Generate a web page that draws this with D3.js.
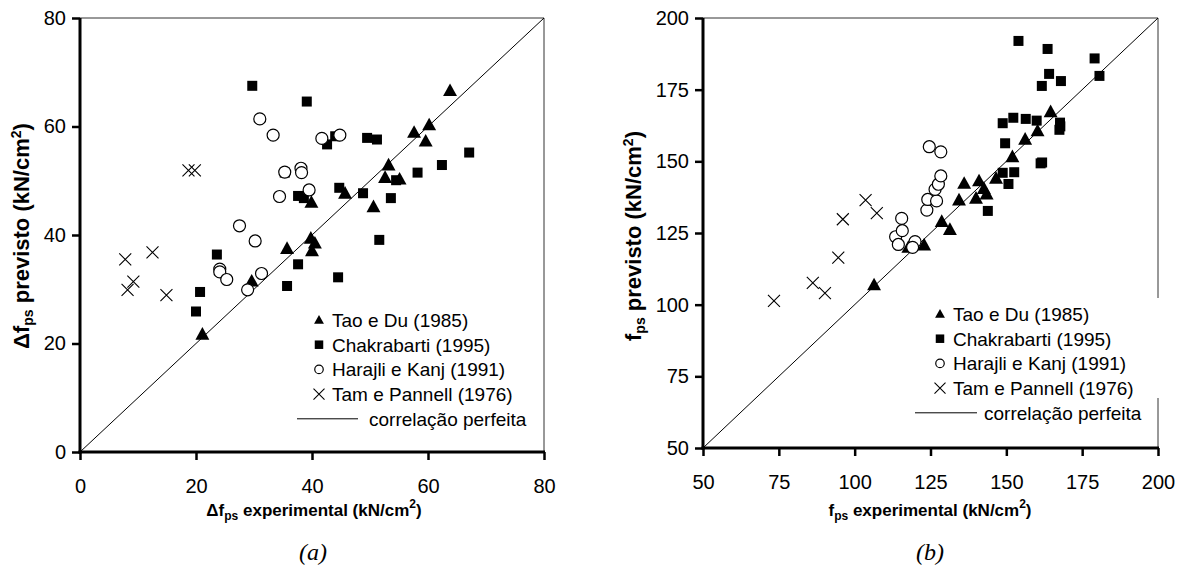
<!DOCTYPE html>
<html lang="en">
<head>
    <meta charset="utf-8">
    <script type="text/javascript" src="https://d3js.org/d3.v7.min.js"></script>
    <style>
        body { margin: 0; background: #fff; }
        text { fill: #000; }
    </style>
</head>

<body>
    <script type="text/javascript">
        // SVG width and height
        let w = 1179;
        let h = 567;

        // Tick labels
        let ticksA = [0, 20, 40, 60, 80];
        let ticksB = [50, 75, 100, 125, 150, 175, 200];

        // Legend names
        let seriesNames = ["Tao e Du (1985)", "Chakrabarti (1995)", "Harajli e Kanj (1991)", "Tam e Pannell (1976)"];
        let lineName = "correlação perfeita";

        // Panel (a): [experimental, previsto]
        let taoA = [[21.1, 21.7], [29.6, 31.5], [35.7, 37.5], [39.8, 39.4], [40.5, 38.5], [40.0, 37.1],
                    [39.9, 46.0], [45.7, 47.7], [50.6, 45.2], [53.2, 52.9], [52.6, 50.6], [55.1, 50.3],
                    [57.6, 58.9], [59.6, 57.3], [60.2, 60.3], [63.8, 66.6]];
        let chakA = [[29.7, 67.5], [39.1, 64.6], [42.6, 56.7], [44.0, 58.2], [49.5, 57.9], [51.2, 57.6],
                     [35.3, 51.5], [37.6, 47.2], [38.6, 46.8], [44.7, 48.7], [48.8, 47.7], [53.6, 46.8],
                     [58.2, 51.5], [62.4, 52.9], [67.1, 55.2], [54.5, 50.1], [23.6, 36.4], [20.7, 29.5],
                     [20.0, 25.9], [35.7, 30.6], [37.6, 34.6], [44.5, 32.2], [51.6, 39.1]];
        let harA = [[31.0, 61.4], [33.3, 58.4], [41.7, 57.8], [44.8, 58.4], [35.3, 51.6], [38.1, 52.3],
                    [38.2, 51.5], [34.4, 47.1], [39.5, 48.3], [27.5, 41.7], [30.2, 38.9], [24.1, 33.7],
                    [24.1, 33.2], [25.3, 31.8], [28.9, 29.9], [31.3, 32.9]];
        let tamA = [[7.8, 35.5], [12.5, 36.8], [8.2, 29.9], [9.2, 31.4], [14.9, 28.9], [18.7, 51.9], [19.8, 51.9]];

        // Panel (b): [experimental, previsto]
        let taoB = [[106.4, 106.9], [117.7, 120.0], [122.9, 120.8], [128.7, 129.0], [131.4, 126.2], [134.4, 136.5],
                    [136.1, 142.3], [140.0, 137.1], [141.0, 143.2], [142.6, 140.5], [143.5, 138.6], [146.6, 144.1],
                    [152.0, 151.6], [156.2, 157.7], [160.3, 160.6], [164.6, 167.3]];
        let chakB = [[143.9, 132.7], [148.8, 146.0], [150.7, 142.1], [152.6, 146.2], [149.6, 156.3], [148.8, 163.3],
                     [152.3, 165.2], [156.4, 164.8], [160.0, 164.2], [161.3, 149.3], [161.8, 149.6], [167.7, 163.5],
                     [167.8, 162.2], [167.5, 161.0], [161.7, 176.3], [164.1, 180.5], [168.0, 178.0], [163.6, 189.2],
                     [154.0, 192.0], [179.1, 185.9], [180.7, 179.8]];
        let harB = [[113.5, 123.7], [114.4, 121.0], [115.7, 125.8], [115.5, 130.1], [119.9, 122.0], [119.1, 120.0],
                    [123.8, 133.0], [124.1, 136.7], [127.0, 136.2], [126.5, 140.2], [127.6, 142.0], [128.4, 144.9],
                    [124.6, 155.1], [128.4, 153.3]];
        let tamB = [[73.4, 101.3], [86.2, 107.6], [90.2, 104.0], [94.6, 116.4], [96.1, 129.8], [103.6, 136.5], [107.3, 131.9]];

        let sans = "'Liberation Sans', Arial, sans-serif";
        let serif = "'Liberation Serif', 'Times New Roman', serif";

        // Create SVG element
        let svg = d3.select("body").append("svg")
                    .attr("width", w)
                    .attr("height", h)
                    .style("font-family", sans);

        // Marker paths
        let triPath = s => `M0,${-s * 0.6}L${s * 0.58},${s * 0.45}L${-s * 0.58},${s * 0.45}Z`;
        let crossPath = s => `M${-s},${-s}L${s},${s}M${-s},${s}L${s},${-s}`;

        let drawMarker = function(g, kind, x, y, s) {
            if (kind === 0) {
                g.append("path").attr("d", triPath(s)).attr("transform", `translate(${x},${y})`).attr("fill", "#000");
            } else if (kind === 1) {
                g.append("rect").attr("x", x - s / 2).attr("y", y - s / 2).attr("width", s).attr("height", s).attr("fill", "#000");
            } else if (kind === 2) {
                g.append("circle").attr("cx", x).attr("cy", y).attr("r", s / 2)
                    .attr("fill", "#fff").attr("stroke", "#000").attr("stroke-width", 1.2);
            } else {
                g.append("path").attr("d", crossPath(s / 2)).attr("transform", `translate(${x},${y})`)
                    .attr("fill", "none").attr("stroke", "#000").attr("stroke-width", 1.1);
            }
        };

        // Title with sub/superscripts
        let addTitle = function(t, prefix, rest, small) {
            t.append("tspan").text(prefix + "f");
            t.append("tspan").text("ps").attr("font-size", small).attr("dy", 4);
            t.append("tspan").text(rest + " (kN/cm").attr("dy", -4);
            t.append("tspan").text("2").attr("font-size", small).attr("dy", -8);
            t.append("tspan").text(")").attr("dy", 8);
        };

        let drawPanel = function(p) {
            let g = svg.append("g");
            let x = d3.scaleLinear().domain(p.domain).range([p.left, p.right]);
            let y = d3.scaleLinear().domain(p.domain).range([p.bottom, p.top]);

            // Thin frame (top and right)
            g.append("path")
                .attr("d", `M${p.left},${p.top}H${p.right}V${p.bottom}`)
                .attr("fill", "none").attr("stroke", "#333").attr("stroke-width", 1);

            // Perfect correlation line
            g.append("line")
                .attr("x1", x(p.domain[0])).attr("y1", y(p.domain[0]))
                .attr("x2", x(p.domain[1])).attr("y2", y(p.domain[1]))
                .attr("stroke", "#000").attr("stroke-width", 1);

            // Axes
            let xAxis = d3.axisBottom(x).tickValues(p.ticks).tickSize(8).tickPadding(19);
            let yAxis = d3.axisLeft(y).tickValues(p.ticks).tickSize(8).tickPadding(6);
            let gx = g.append("g").attr("transform", `translate(0,${p.bottom})`).call(xAxis);
            let gy = g.append("g").attr("transform", `translate(${p.left},0)`).call(yAxis);
            [gx, gy].forEach(a => {
                a.select(".domain").attr("stroke-width", 3).attr("stroke", "#000");
                a.selectAll(".tick line").attr("stroke-width", 2.5).attr("stroke", "#000");
                a.selectAll(".tick text").attr("font-size", 20).style("font-family", sans).attr("fill", "#000");
            });
            gy.select(".domain").attr("d", `M0,${p.bottom + 1.5}V${p.top}`);
            gx.select(".domain").attr("d", `M${p.left - 1.5},0H${p.right + 1}`);

            // Points
            let pts = g.append("g");
            p.series.forEach((data, k) => {
                data.forEach(d => drawMarker(pts, k, x(d[0]), y(d[1]), k === 1 ? 10 : 12));
            });

            // Legend
            let lg = g.append("g");
            if (p.legendBg) {
                lg.append("rect").attr("x", p.legendBg[0]).attr("y", p.legendBg[1])
                    .attr("width", p.legendBg[2]).attr("height", p.legendBg[3]).attr("fill", "#fff");
            }
            seriesNames.forEach((name, k) => {
                let ly = p.legY + k * p.legStep;
                drawMarker(lg, k, p.legMarkX, ly, k === 3 ? 11 : 8.5);
                lg.append("text").attr("x", p.legTextX).attr("y", ly).attr("dy", "0.36em")
                    .attr("font-size", 19).text(name);
            });
            let ly = p.legY + 4 * p.legStep;
            lg.append("line").attr("x1", p.legLine[0]).attr("x2", p.legLine[1]).attr("y1", ly).attr("y2", ly)
                .attr("stroke", "#000").attr("stroke-width", 1);
            lg.append("text").attr("x", p.legLine[2]).attr("y", ly).attr("dy", "0.36em")
                .attr("font-size", 19).text(lineName);

            // Axis titles
            let tx = g.append("text").attr("x", p.xTitle[0]).attr("y", p.xTitle[1])
                .attr("text-anchor", "middle").attr("font-weight", "bold").attr("font-size", 17);
            addTitle(tx, p.prefix, " experimental", 12);
            let ty = g.append("text").attr("transform", `translate(${p.yTitle[0]},${p.yTitle[1]}) rotate(-90)`)
                .attr("text-anchor", "middle").attr("font-weight", "bold").attr("font-size", 22);
            addTitle(ty, p.prefix, " previsto", 14);

            // Caption
            g.append("text").attr("x", p.caption[0]).attr("y", p.caption[1]).attr("text-anchor", "middle")
                .style("font-family", serif).attr("font-style", "italic")
                .attr("font-size", 24).text(p.caption[2]);
        };

        // Panel (a)
        drawPanel({
            domain: [0, 80], ticks: ticksA,
            left: 80, right: 544, top: 18, bottom: 452,
            series: [taoA, chakA, harA, tamA],
            legY: 320, legStep: 24.7, legMarkX: 319, legTextX: 332, legLine: [297, 358, 369],
            xTitle: [314, 516], yTitle: [29, 236], prefix: "Δ",
            caption: [313, 560, "(a)"]
        });

        // Panel (b)
        drawPanel({
            domain: [50, 200], ticks: ticksB,
            left: 703, right: 1158, top: 18, bottom: 448,
            series: [taoB, chakB, harB, tamB],
            legY: 314, legStep: 24.7, legMarkX: 940, legTextX: 953, legLine: [915, 977, 984],
            legendBg: [1150, 298, 14, 100],
            xTitle: [930, 516], yTitle: [641, 236], prefix: "",
            caption: [930, 560, "(b)"]
        });
    </script>
</body>
</html>
